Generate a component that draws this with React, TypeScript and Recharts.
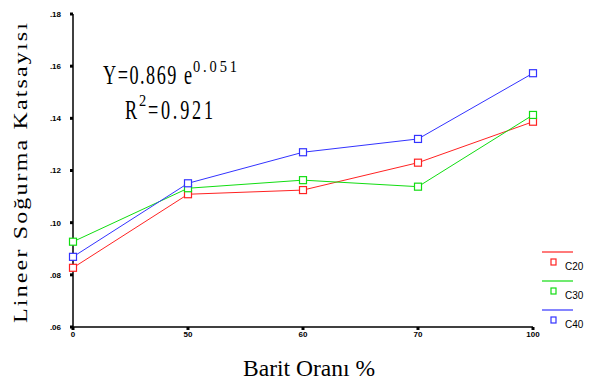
import React from 'react'
import { LineChart, Line, XAxis, YAxis, Legend } from 'recharts'

const categories = ['0', '50', '60', '70', '100']
const c20 = [0.0827, 0.1109, 0.1125, 0.123, 0.1387]
const c30 = [0.0927, 0.1132, 0.1163, 0.1138, 0.1413]
const c40 = [0.0869, 0.1151, 0.127, 0.1321, 0.1573]
const yTicks = [0.06, 0.08, 0.1, 0.12, 0.14, 0.16, 0.18]

const data = categories.map((c, i) => ({ x: c, C20: c20[i], C30: c30[i], C40: c40[i] }))

const serif = '"Liberation Serif", "Times New Roman", serif'
const sans = '"Liberation Sans", Arial, sans-serif'

const squareDot = (color: string) => (props: any) => {
  const { cx, cy, index } = props
  if (cx == null || cy == null) return <g key={index} />
  return (
    <rect key={index} x={cx - 3.5} y={cy - 3.5} width={7} height={7}
      fill="#fff" stroke={color} strokeWidth={1.2} />
  )
}

// serif text squeezed horizontally like the scanned figure
const Narrow = ({ x, y, size, width, sx = 0.65, children }: any) => (
  <text transform={`translate(${x} ${y}) scale(${sx} 1)`} fontFamily={serif}
    fontSize={size} fill="#000" textLength={width / sx}>
    {children}
  </text>
)

const LegendBox = ({ payload }: any) => (
  <svg width={51} height={90}>
    {(payload || []).map((p: any, i: number) => (
      <g key={p.value} transform={`translate(0, ${i * 29})`}>
        <line x1={2} x2={33} y1={7} y2={7} stroke={p.color} strokeWidth={1.2} />
        <rect x={11} y={14} width={5} height={6} fill="#fff" stroke={p.color} strokeWidth={1.2} />
        <text x={25} y={25} fontFamily={sans} fontSize={10} fill="#000">{p.value}</text>
      </g>
    ))}
  </svg>
)

const YTitle = () => (
  <text transform="translate(27 173) scale(0.8 1) rotate(-90)" textAnchor="middle"
    fontFamily={serif} fontSize={24} fill="#000" textLength={300}>
    Lineer Soğurma Katsayısı
  </text>
)

const XTitle = () => (
  <text x={309} y={376} textAnchor="middle" fontFamily={serif} fontSize={24}
    fill="#000" textLength={132} lengthAdjust="spacingAndGlyphs">
    Barit Oranı %
  </text>
)

export default function App() {
  return (
    <div style={{ position: 'absolute', left: 0, top: 0, width: 591, height: 384, background: '#fff' }}>
      <LineChart width={591} height={384} data={data}
        margin={{ top: 14, right: 58, bottom: 0, left: 0 }}>
        <XAxis dataKey="x" height={57} interval={0}
          tick={{ fontFamily: sans, fontSize: 8, fontWeight: 'bold', fill: '#000' }}
          tickSize={3} tickMargin={1}
          tickLine={{ stroke: '#000', strokeWidth: 3 }}
          axisLine={{ stroke: '#000', strokeWidth: 1.5 }}
          label={<XTitle />} />
        <XAxis xAxisId="top" dataKey="x" orientation="top" height={0} tick={false}
          tickLine={false} axisLine={{ stroke: '#000', strokeWidth: 1.5 }} />
        <YAxis width={73} domain={[0.06, 0.18]} ticks={yTicks} interval={0}
          tickFormatter={(v: number) => v.toFixed(2).replace(/^0/, '')}
          tick={{ fontFamily: sans, fontSize: 8, fontWeight: 'bold', fill: '#000' }}
          tickSize={3} tickMargin={9}
          tickLine={{ stroke: '#000', strokeWidth: 3 }}
          axisLine={{ stroke: '#000', strokeWidth: 1.5 }}
          label={<YTitle />} />
        <YAxis yAxisId="right" orientation="right" width={0} domain={[0.06, 0.18]}
          tick={false} tickLine={false} axisLine={{ stroke: '#000', strokeWidth: 1.5 }} />
        <Legend layout="horizontal" verticalAlign="middle" align="center"
          content={<LegendBox />}
          wrapperStyle={{ position: 'absolute', left: 540, top: 245, width: 51, height: 90 }} />
        <Line dataKey="C20" name="C20" stroke="#f22" strokeWidth={1} dot={squareDot('#f22')} isAnimationActive={false} />
        <Line dataKey="C30" name="C30" stroke="#1d1" strokeWidth={1} dot={squareDot('#1d1')} isAnimationActive={false} />
        <Line dataKey="C40" name="C40" stroke="#33f" strokeWidth={1} dot={squareDot('#33f')} isAnimationActive={false} />
      </LineChart>
      <svg width={591} height={384} style={{ position: 'absolute', left: 0, top: 0, pointerEvents: 'none' }}>
        <Narrow x={103} y={84} size={28} width={89}>Y=0.869 e</Narrow>
        <Narrow x={193} y={72} size={17} width={44} sx={0.85}>0.051</Narrow>
        <Narrow x={125} y={119} size={28} width={13}>R</Narrow>
        <Narrow x={139} y={106} size={17} width={7} sx={0.85}>2</Narrow>
        <Narrow x={148} y={119} size={28} width={65}>=0.921</Narrow>
      </svg>
    </div>
  )
}
